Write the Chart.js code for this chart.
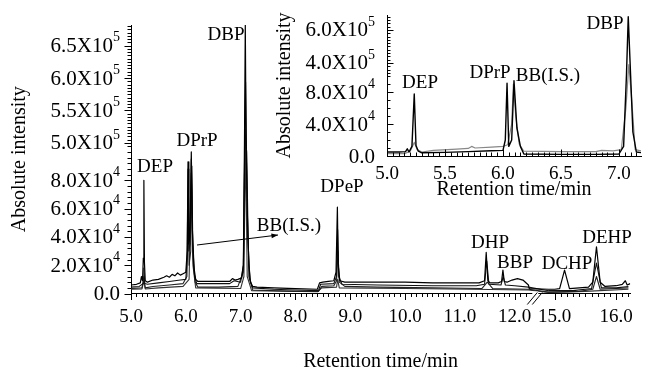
<!DOCTYPE html>
<html>
<head>
<meta charset="utf-8">
<script src="https://cdn.jsdelivr.net/npm/chart.js@4.4.1/dist/chart.umd.min.js"></script>
<style>
  html, body { margin: 0; padding: 0; background: #fff; }
  #wrap { position: relative; width: 645px; height: 372px; }
  #mainChart { position: absolute; left: 0; top: 0; }
  #insetChart { position: absolute; left: 270px; top: 0; }
</style>
</head>
<body>
<div id="wrap">
  <canvas id="mainChart" width="645" height="372"></canvas>
  <canvas id="insetChart" width="375" height="200"></canvas>
</div>
<script>
  var FONT = '"Liberation Serif", "Times New Roman", serif';

  // ---- main chromatogram: four overlaid runs (time in min, intensity in counts)
  var runATime = [5.00,5.10,5.17,5.19,5.21,5.225,5.235,5.245,5.26,5.30,5.40,5.50,5.60,5.65,5.70,5.75,5.80,5.85,5.90,5.95,6.00,6.025,6.04,6.055,6.075,6.10,6.12,6.15,6.18,6.22,6.50,6.80,6.85,6.90,6.95,7.02,7.05,7.07,7.085,7.10,7.12,7.15,7.18,7.22,7.30,7.60,8.00,8.40,8.44,8.50,8.60,8.70,8.74,8.765,8.78,8.81,8.90,9.50,10.0,10.5,11.0,11.35,11.45,11.48,11.51,11.55,11.70,11.76,11.785,11.81,11.86,11.95,12.05,12.15,12.25,12.40,14.90,15.00,15.08,15.16,15.24,15.40,15.55,15.62,15.68,15.74,15.82,16.00,16.10,16.15,16.18,16.23];
  var runAValue = [6000,6500,7500,12000,9000,25000,80000,22000,9000,8000,9500,10000,11500,12500,11500,13500,12500,14500,13000,14000,15000,30000,93000,35000,40000,100000,45000,18000,10000,8500,8500,8500,10500,9500,10000,11000,20000,400000,684000,300000,60000,20000,8000,5000,4500,4000,3500,3000,7500,8000,8500,9000,15000,61000,20000,9000,8000,8000,8000,7500,7500,7500,9000,29000,9000,7500,7500,8500,16500,8500,8000,9500,10500,9500,6000,3500,3000,3000,3500,16500,3500,4000,4500,8000,33000,8000,5000,5500,6500,9000,6000,7000];

  var runBTime = [5.00,5.15,5.22,5.235,5.25,5.30,5.50,5.70,5.90,6.00,6.025,6.04,6.055,6.08,6.10,6.125,6.16,6.20,6.50,6.80,6.88,7.00,7.05,7.075,7.09,7.105,7.13,7.17,7.22,7.60,8.00,8.42,8.46,8.70,8.75,8.77,8.79,8.85,9.50,10.5,11.3,11.45,11.49,11.53,11.75,11.79,11.83,12.00,12.25,14.90,15.30,15.60,15.68,15.76,16.00,16.20];
  var runBValue = [4500,5000,7000,18000,7000,6500,7500,8500,9500,10000,25000,88000,30000,35000,95000,35000,12000,7000,7000,7000,9000,8000,20000,250000,594000,250000,40000,10000,4000,3000,2500,2000,6500,7000,12000,45000,12000,6500,6000,5500,5500,6500,23000,6500,6000,12000,6000,5500,4500,2000,2000,3500,21500,4000,4000,5000];

  var runCTime = [5.00,5.20,5.235,5.26,5.40,5.70,5.95,6.02,6.045,6.06,6.09,6.11,6.13,6.17,6.22,6.60,6.95,7.05,7.08,7.11,7.15,7.22,8.00,8.42,8.48,8.70,8.75,8.775,8.80,8.90,9.50,10.5,11.4,11.5,11.6,12.25,14.90,15.40,15.62,15.68,15.74,16.00,16.20];
  var runCValue = [3500,4000,12000,4000,5000,6000,7000,12000,60000,20000,30000,90000,25000,8000,4500,4500,5000,15000,520000,100000,12000,2500,1500,1500,5000,5500,9000,30000,8000,5000,4500,4000,3500,8000,3500,3000,1000,1500,3000,12000,3000,3500,4000];

  var runDTime = [5.00,5.20,5.235,5.26,5.50,5.95,6.06,6.10,6.13,6.18,7.00,7.06,7.09,7.12,7.20,8.40,8.48,8.75,8.77,8.80,10.0,11.2,12.25,14.90,15.50,16.20];
  var runDValue = [3000,3200,9000,3200,4000,5000,10000,85000,20000,4000,3500,12000,120000,12000,2000,1200,4000,4500,10000,4000,3500,3000,2500,800,1500,3000];

  var mainXTicks = [5, 6, 7, 8, 9, 10, 11, 12, 15, 16];
  var mainXTickLabels = ["5.0", "6.0", "7.0", "8.0", "9.0", "10.0", "11.0", "12.0", "15.0", "16.0"];
  var mainYTicks = [0, 20000, 40000, 60000, 80000, 500000, 550000, 600000, 650000];
  var mainYTickLabels = ["0.0", "2.0X10^4", "4.0X10^4", "6.0X10^4", "8.0X10^4", "5.0X10^5", "5.5X10^5", "6.0X10^5", "6.5X10^5"];

  // ---- inset: zoom on 5-7.2 min, two runs
  var insetBlackTime = [5.00,5.10,5.16,5.175,5.19,5.215,5.235,5.25,5.27,5.30,5.50,5.70,5.90,6.00,6.02,6.035,6.05,6.075,6.095,6.12,6.15,6.18,6.50,6.80,7.00,7.04,7.065,7.08,7.10,7.12,7.15,7.20];
  var insetBlackValue = [5000,5000,5500,9000,5000,12000,77500,13000,6000,4000,4500,5500,6500,7000,20000,91000,12000,20000,94000,35000,12000,2500,2000,2000,2500,12000,300000,680000,200000,30000,5000,4000];
  var insetGreyTime = [5.00,5.15,5.20,5.235,5.26,5.30,5.40,5.60,5.70,5.73,5.76,5.90,6.00,6.04,6.075,6.09,6.11,6.14,6.18,6.50,6.80,6.85,6.95,7.02,7.06,7.085,7.11,7.14,7.20];
  var insetGreyValue = [3000,3000,6000,17000,8000,5000,7000,8500,9500,12000,10000,11000,12000,14000,40000,90000,50000,15000,6000,5500,5500,7000,6500,8000,60000,390000,70000,8000,6000];

  var insetXTicks = [5.0, 5.5, 6.0, 6.5, 7.0];
  var insetXTickLabels = ["5.0", "5.5", "6.0", "6.5", "7.0"];
  var insetYTicks = [0, 40000, 80000, 400000, 600000];
  var insetYTickLabels = ["0.0", "4.0X10^4", "8.0X10^4", "4.0X10^5", "6.0X10^5"];

  // broken axes: map real values onto the drawn scale
  function mainX(t) {
    if (t <= 12.25) return t;
    if (t >= 14.8) return 12.73 + (t - 15) * 1.12;
    return 12.25 + (t - 12.25) / 2.55 * 0.256;
  }
  function mainY(v) {
    if (v <= 106000) return v / 1e4;
    if (v >= 500000) return 10.64 + (v - 500000) / 50000 * 2.29;
    return 10.6 + (v - 106000) / 394000 * 0.04;
  }
  function insetY(v) {
    if (v <= 102000) return v / 1e4;
    if (v >= 333000) return 10.25 + (v - 333000) / 200000 * 4.125;
    return 10.2 + (v - 102000) / 231000 * 0.05;
  }
  function steps(a, b, s) {
    var out = [];
    for (var v = a; v <= b + s * 0.01; v += s) out.push(v);
    return out;
  }
  function points(times, vals, fx, fy) {
    return times.map(function (t, i) { return { x: fx(t), y: fy(vals[i]) }; });
  }
  function ident(t) { return t; }

  // tick marks, y labels with exponents, axis breaks, peak labels
  function makeMarks(cfg) {
    return {
      id: 'marks',
      afterDraw: function (chart) {
        var ctx = chart.ctx, a = chart.chartArea;
        var xs = chart.scales.x, ys = chart.scales.y;
        ctx.save();
        ctx.strokeStyle = '#000';
        ctx.lineWidth = 1;
        ctx.beginPath();
        cfg.xMinor.forEach(function (u) {
          var p = Math.round(xs.getPixelForValue(u)) + 0.5;
          ctx.moveTo(p, a.bottom); ctx.lineTo(p, a.bottom + cfg.dir * 3.5);
        });
        cfg.xMajor.forEach(function (u) {
          var p = Math.round(xs.getPixelForValue(u)) + 0.5;
          ctx.moveTo(p, a.bottom); ctx.lineTo(p, a.bottom + cfg.dir * 6.5);
        });
        cfg.yMinor.forEach(function (u) {
          var p = Math.round(ys.getPixelForValue(u)) + 0.5;
          ctx.moveTo(a.left, p); ctx.lineTo(a.left - cfg.dir * 3.5, p);
        });
        cfg.yMajor.forEach(function (u) {
          var p = Math.round(ys.getPixelForValue(u)) + 0.5;
          ctx.moveTo(a.left, p); ctx.lineTo(a.left - cfg.dir * 6.5, p);
        });
        ctx.stroke();

        // y break
        var by = ys.getPixelForValue(cfg.yBreak);
        ctx.fillStyle = '#fff';
        ctx.fillRect(a.left - 2, by - 2, 4, 4);
        ctx.beginPath();
        ctx.moveTo(a.left - 5, by + 1); ctx.lineTo(a.left + 5, by - 3);
        ctx.moveTo(a.left - 5, by + 4); ctx.lineTo(a.left + 5, by);
        ctx.stroke();

        // x break
        if (cfg.xBreak !== null) {
          var bx = xs.getPixelForValue(cfg.xBreak);
          ctx.fillRect(bx - 3, a.bottom - 2, 6, 4);
          ctx.beginPath();
          ctx.moveTo(bx - 8, a.bottom + 11); ctx.lineTo(bx + 2, a.bottom - 1);
          ctx.moveTo(bx - 3, a.bottom + 11); ctx.lineTo(bx + 7, a.bottom - 1);
          ctx.stroke();
        }

        // y tick labels, "X10^n" drawn with a raised exponent
        ctx.fillStyle = '#000';
        ctx.textBaseline = 'middle';
        cfg.yTicks.forEach(function (u, i) {
          var parts = cfg.yLabels[i].split('^');
          var py = ys.getPixelForValue(u);
          var right = a.left - cfg.labelGap;
          var supW = 0;
          if (parts.length > 1) {
            ctx.font = '14px ' + FONT;
            supW = ctx.measureText(parts[1]).width;
            ctx.textAlign = 'left';
            ctx.fillText(parts[1], right - supW, py - 8);
          }
          ctx.font = '21px ' + FONT;
          ctx.textAlign = 'right';
          ctx.fillText(parts[0], right - supW, py + 1);
        });

        ctx.font = '19px ' + FONT;
        ctx.textAlign = 'center';
        cfg.labels.forEach(function (l) { ctx.fillText(l[0], l[1], l[2]); });

        if (cfg.arrow) {
          var r = cfg.arrow;
          ctx.beginPath();
          ctx.moveTo(r[0], r[1]); ctx.lineTo(r[2], r[3]);
          ctx.stroke();
          var ang = Math.atan2(r[3] - r[1], r[2] - r[0]);
          ctx.beginPath();
          ctx.moveTo(r[2], r[3]);
          ctx.lineTo(r[2] - 7 * Math.cos(ang - 0.35), r[3] - 7 * Math.sin(ang - 0.35));
          ctx.lineTo(r[2] - 7 * Math.cos(ang + 0.35), r[3] - 7 * Math.sin(ang + 0.35));
          ctx.closePath();
          ctx.fill();
        }
        ctx.restore();
      }
    };
  }

  function lineSet(data, color, width) {
    return { data: data, borderColor: color, borderWidth: width, pointRadius: 0, fill: false, tension: 0, borderJoinStyle: 'round' };
  }

  function tickFont() { return { family: FONT, size: 19 }; }
  function titleFont() { return { family: FONT, size: 20, lineHeight: 1 }; }

  var mainChart = new Chart(document.getElementById('mainChart'), {
    type: 'line',
    data: {
      datasets: [
        lineSet(points(runATime, runAValue, mainX, mainY), '#000', 1.2),
        lineSet(points(runBTime, runBValue, mainX, mainY), '#111', 1.1),
        lineSet(points(runCTime, runCValue, mainX, mainY), '#222', 1.1),
        lineSet(points(runDTime, runDValue, mainX, mainY), '#333', 1.1)
      ]
    },
    options: {
      responsive: false,
      animation: false,
      layout: { padding: { top: 25, right: 9, left: 0, bottom: 0 } },
      plugins: { legend: { display: false }, tooltip: { enabled: false } },
      scales: {
        x: {
          type: 'linear', min: 5, max: mainX(16.23),
          grid: { display: false, drawTicks: false },
          border: { color: '#000', width: 1 },
          afterBuildTicks: function (s) { s.ticks = mainXTicks.map(function (v) { return { value: mainX(v) }; }); },
          afterFit: function (s) { s.height = 78.5; },
          ticks: { autoSkip: false, maxRotation: 0, padding: 12, color: '#000', font: tickFont(),
                   callback: function (v, i) { return mainXTickLabels[i]; } },
          title: { display: true, text: 'Retention time/min', color: '#000', font: titleFont(), padding: { top: 0, bottom: 0 } }
        },
        y: {
          type: 'linear', min: 0, max: 18.97,
          grid: { display: false, drawTicks: false },
          border: { color: '#000', width: 1 },
          afterBuildTicks: function (s) { s.ticks = mainYTicks.map(function (v) { return { value: mainY(v) }; }); },
          afterFit: function (s) { s.width = 131; },
          ticks: { display: false },
          title: { display: true, text: 'Absolute intensity', color: '#000', font: titleFont(), padding: { top: 10, bottom: 0 } }
        }
      }
    },
    plugins: [makeMarks({
      dir: 1,
      labelGap: 11,
      yTicks: mainYTicks.map(mainY),
      yLabels: mainYTickLabels,
      xMajor: mainXTicks.map(mainX),
      xMinor: steps(5, 12.2, 0.1).concat(steps(15, 16.2, 0.1)).map(mainX),
      yMajor: mainYTicks.map(mainY),
      yMinor: steps(0, 104000, 4000).concat(steps(500000, 680000, 5000)).map(mainY),
      yBreak: 300000,
      xBreak: mainX(13.5),
      labels: [["DEP", 155, 167], ["DPrP", 197, 141], ["DBP", 226, 35], ["BB(I.S.)", 289, 226],
               ["DPeP", 342, 187], ["DHP", 490, 243], ["BBP", 515, 263], ["DCHP", 567, 264], ["DEHP", 607, 238]],
      arrow: [197, 245, 278, 235]
    })]
  });

  var insetChart = new Chart(document.getElementById('insetChart'), {
    type: 'line',
    data: {
      datasets: [
        lineSet(points(insetBlackTime, insetBlackValue, ident, insetY), '#000', 1.4),
        lineSet(points(insetGreyTime, insetGreyValue, ident, insetY), '#888', 1.2)
      ]
    },
    options: {
      responsive: false,
      animation: false,
      layout: { padding: { top: 15, right: 4, left: 0, bottom: 0 } },
      plugins: { legend: { display: false }, tooltip: { enabled: false } },
      scales: {
        x: {
          type: 'linear', min: 5, max: 7.19,
          grid: { display: false, drawTicks: false },
          border: { color: '#000', width: 1 },
          afterBuildTicks: function (s) { s.ticks = insetXTicks.map(function (v) { return { value: v }; }); },
          afterFit: function (s) { s.height = 44; },
          ticks: { autoSkip: false, maxRotation: 0, padding: 7, color: '#000', font: tickFont(),
                   callback: function (v, i) { return insetXTickLabels[i]; } },
          title: { display: true, text: 'Retention time/min', color: '#000', font: titleFont(), padding: { top: 0, bottom: 0 } }
        },
        y: {
          type: 'linear', min: 0, max: 17.625,
          grid: { display: false, drawTicks: false },
          border: { color: '#000', width: 1 },
          afterBuildTicks: function (s) { s.ticks = insetYTicks.map(function (v) { return { value: insetY(v) }; }); },
          afterFit: function (s) { s.width = 117; },
          ticks: { display: false },
          title: { display: true, text: 'Absolute intensity', color: '#000', font: titleFont(), padding: { top: 5, bottom: 0 } }
        }
      }
    },
    plugins: [makeMarks({
      dir: -1,
      labelGap: 12,
      yTicks: insetYTicks.map(insetY),
      yLabels: insetYTickLabels,
      xMajor: insetXTicks,
      xMinor: steps(5, 7.15, 0.05),
      yMajor: insetYTicks.map(insetY),
      yMinor: steps(0, 100000, 10000).concat(steps(340000, 680000, 20000)).map(insetY),
      yBreak: 200000,
      xBreak: null,
      labels: [["DEP", 150, 83], ["DPrP", 220, 73], ["BB(I.S.)", 278, 76], ["DBP", 335, 24]],
      arrow: null
    })]
  });
</script>
</body>
</html>
